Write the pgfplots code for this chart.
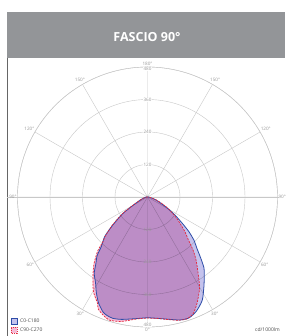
\documentclass[border=0pt]{standalone}
\usepackage{pgfplots}
\pgfplotsset{compat=1.18}
\usepgfplotslibrary{polar}
\usepackage{pgfplotstable}
\usepackage{fontspec}
\setmainfont{Open Sans}
\definecolor{hdr}{HTML}{939598}
\definecolor{gridc}{HTML}{C8C8C8}
\definecolor{bline}{HTML}{2E4DA8}
\definecolor{rline}{HTML}{E5283C}
\definecolor{bfill}{rgb}{0.77,0.76,0.93}
\definecolor{rfill}{rgb}{0.96,0.73,0.84}
\definecolor{lab}{HTML}{9A9A9A}

% angle phi: 0 = straight down, positive = right side; r in cd/1000lm
\pgfplotstableread{
phi r
-90 0
-85 4
-80 8
-70 22
-60 62
-56 111
-51 165
-47.3 215
-43 250
-40.7 285
-37.7 312
-34.9 344
-31 372
-28.2 400
-24.8 431
-21.2 455
-19 462
-16 466
-12 462
-6 452
0 446
5 450
11.5 462
15 470
19 472
23.3 458
28 431
32.3 390
35 365
38.5 335
41 300
44 262
47 235
50 200
53 160
57 118
61.5 77
70 35
79 12
85 4
90 0
}\tabblue

\pgfplotstableread{
phi r
-90 0
-85 4
-80 8
-70 24
-60 66
-56 115
-51 170
-47 215
-45 232
-42.8 270
-38.8 315
-34.6 355
-29.8 402
-25.3 433
-23.7 452
-20.5 466
-17.3 476
-12 470
-5 452
0 447
6 452
10 460
14 469
17.7 473
21.2 464
25 433
29.7 388
33 345
37.5 295
40.5 260
44 215
47 190
51 155
55 125
60 92
65 62
72 32
80 12
85 4
90 0
}\tabred

\begin{document}
\begin{tikzpicture}
\path[use as bounding box] (0pt,0pt) rectangle (285pt,336pt);
\fill[white] (0pt,0pt) rectangle (285pt,336pt);
% header
\fill[hdr] (7pt,278pt) rectangle (285pt,324pt);
\node[text=white, font=\fontsize{12.5}{14}\selectfont\bfseries] at (147pt,298.5pt) {FASCIO 90°};
% left frame line
\draw[gray!80!black, line width=0.6pt] (7pt,0pt) -- (7pt,278pt);
% extended 90 degree line
\draw[gridc, line width=0.4pt] (7pt,139pt) -- (279pt,139pt);
\begin{polaraxis}[
  scale only axis, width=260pt, height=260pt,
  at={(147.5pt,139pt)}, anchor=center,
  xmin=0, xmax=360, ymin=0, ymax=480,
  clip=false,
  xtick={0,30,...,330},
  xticklabels={90°,120°,150°,180°,150°,120°,90°,60°,30°,0°,30°,60°},
  ytick={120,240,360,480},
  yticklabels={},
  grid=major,
  major grid style={gridc, line width=0.4pt},
  axis line style={gridc, line width=0.4pt},
  major tick length=0pt,
  xticklabel style={font=\fontsize{4.6}{5.5}\selectfont, text=lab, inner sep=0.8pt},
]
\addplot[draw=none, fill=bfill, blend mode=multiply, smooth, tension=0.4] table[x expr=\thisrow{phi}-90, y=r] {\tabblue};
\addplot[draw=none, fill=rfill, blend mode=multiply, smooth, tension=0.4] table[x expr=\thisrow{phi}-90, y=r] {\tabred};
\addplot[bline, line width=0.8pt, smooth, tension=0.4] table[x expr=\thisrow{phi}-90, y=r] {\tabblue};
\addplot[rline, line width=0.7pt, dash pattern=on 2pt off 1.2pt, smooth, tension=0.4] table[x expr=\thisrow{phi}-90, y=r] {\tabred};
\node[fill=white, inner sep=0.4pt, text=lab, font=\fontsize{4.6}{5.5}\selectfont] at (axis cs:90,120) {120};
\node[fill=white, inner sep=0.4pt, text=lab, font=\fontsize{4.6}{5.5}\selectfont] at (axis cs:90,240) {240};
\node[fill=white, inner sep=0.4pt, text=lab, font=\fontsize{4.6}{5.5}\selectfont] at (axis cs:90,360) {360};
\node[fill=white, inner sep=0.4pt, text=lab, font=\fontsize{4.6}{5.5}\selectfont, anchor=north] at (axis cs:90,480) {480};
\node[inner sep=0.4pt, text=lab, font=\fontsize{4.6}{5.5}\selectfont] at (axis cs:270,120) {120};
\node[inner sep=0.4pt, text=lab, font=\fontsize{4.6}{5.5}\selectfont] at (axis cs:270,240) {240};
\node[inner sep=0.4pt, text=lab, font=\fontsize{4.6}{5.5}\selectfont] at (axis cs:270,360) {360};
\node[fill=white, inner sep=0.4pt, text=lab, font=\fontsize{4.6}{5.5}\selectfont, anchor=south] at (axis cs:270,480) {480};
\end{polaraxis}
% legend
\draw[bline, fill=bfill, line width=0.5pt] (11pt,12pt) rectangle (17pt,18pt);
\node[anchor=west, font=\fontsize{5}{6}\selectfont, text=black!70, inner sep=0pt] at (20pt,15pt) {C0-C180};
\draw[rline, fill=rfill, line width=0.5pt, dash pattern=on 1.2pt off 0.8pt] (11pt,3pt) rectangle (17pt,9pt);
\node[anchor=west, font=\fontsize{5}{6}\selectfont, text=black!70, inner sep=0pt] at (20pt,6pt) {C90-C270};
\node[anchor=west, font=\fontsize{5}{6}\selectfont, text=black!70, inner sep=0pt] at (255pt,6pt) {cd/1000lm};
\end{tikzpicture}
\end{document}
